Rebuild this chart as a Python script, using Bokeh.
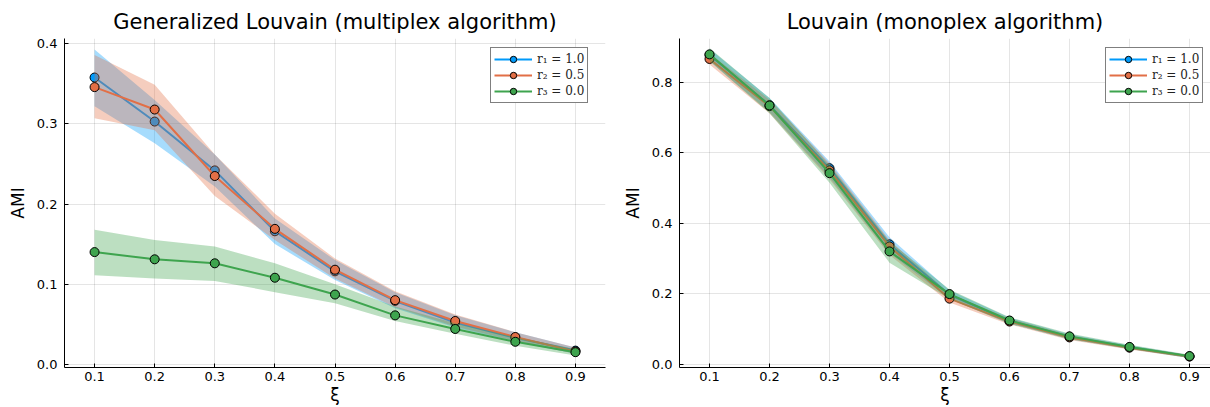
from bokeh.plotting import figure
from bokeh.layouts import row
from bokeh.models import Range1d, Legend, LegendItem, FixedTicker, PrintfTickFormatter
from bokeh.embed import file_html
from bokeh.resources import INLINE

xi = [0.1, 0.2, 0.3, 0.4, 0.5, 0.6, 0.7, 0.8, 0.9]
labels = ["r₁ = 1.0", "r₂ = 0.5", "r₃ = 0.0"]
colors = ["#009AFA", "#E26F46", "#3EA44E"]

# Generalized Louvain (multiplex)
gl_r1 = [0.358, 0.303, 0.242, 0.166, 0.116, 0.079, 0.052, 0.033, 0.017]
gl_r1_lo = [0.322, 0.276, 0.222, 0.150, 0.105, 0.070, 0.046, 0.028, 0.013]
gl_r1_hi = [0.393, 0.330, 0.262, 0.182, 0.130, 0.090, 0.061, 0.040, 0.021]
gl_r2 = [0.346, 0.318, 0.235, 0.169, 0.118, 0.080, 0.054, 0.034, 0.016]
gl_r2_lo = [0.307, 0.292, 0.210, 0.155, 0.107, 0.071, 0.047, 0.029, 0.013]
gl_r2_hi = [0.386, 0.349, 0.262, 0.188, 0.132, 0.091, 0.062, 0.040, 0.021]
gl_r3 = [0.140, 0.131, 0.126, 0.108, 0.087, 0.061, 0.044, 0.028, 0.015]
gl_r3_lo = [0.111, 0.107, 0.104, 0.090, 0.076, 0.054, 0.038, 0.023, 0.011]
gl_r3_hi = [0.168, 0.155, 0.147, 0.126, 0.100, 0.072, 0.051, 0.034, 0.019]

# Louvain (monoplex)
lv_r1 = [0.877, 0.735, 0.556, 0.340, 0.197, 0.123, 0.078, 0.048, 0.022]
lv_r1_lo = [0.860, 0.715, 0.530, 0.315, 0.185, 0.115, 0.071, 0.043, 0.018]
lv_r1_hi = [0.895, 0.755, 0.575, 0.360, 0.210, 0.132, 0.085, 0.054, 0.026]
lv_r2 = [0.866, 0.732, 0.550, 0.334, 0.186, 0.121, 0.076, 0.047, 0.022]
lv_r2_lo = [0.850, 0.712, 0.525, 0.310, 0.175, 0.113, 0.069, 0.042, 0.018]
lv_r2_hi = [0.882, 0.750, 0.570, 0.352, 0.200, 0.130, 0.083, 0.052, 0.026]
lv_r3 = [0.879, 0.734, 0.542, 0.320, 0.199, 0.124, 0.079, 0.049, 0.023]
lv_r3_lo = [0.860, 0.712, 0.515, 0.288, 0.185, 0.115, 0.071, 0.043, 0.018]
lv_r3_hi = [0.897, 0.755, 0.565, 0.348, 0.212, 0.133, 0.087, 0.055, 0.027]

x_ticks = [0.1, 0.2, 0.3, 0.4, 0.5, 0.6, 0.7, 0.8, 0.9]
left_y_ticks = [0.0, 0.1, 0.2, 0.3, 0.4]
right_y_ticks = [0.0, 0.2, 0.4, 0.6, 0.8]

FONT = "DejaVu Sans"


def make(title, series, xr, yr, yticks, width, mbl, mbr, title_offset=0):
    p = figure(width=width, height=407, x_range=Range1d(*xr), y_range=Range1d(*yr),
               output_backend="svg", toolbar_location=None,
               min_border_left=mbl, min_border_right=mbr,
               min_border_top=38, min_border_bottom=39)
    p.outline_line_color = None
    p.title.text = title
    p.title.align = "center"
    p.title.text_font = FONT
    p.title.text_font_size = "21px"
    p.title.text_font_style = "normal"
    p.title.text_color = "#000000"
    p.title.offset = title_offset
    p.title.standoff = 9
    for ax in (p.xaxis[0], p.yaxis[0]):
        ax.major_tick_in = 4
        ax.major_tick_out = 0
        ax.minor_tick_in = 0
        ax.minor_tick_out = 0
        ax.major_label_text_font = FONT
        ax.major_label_text_font_size = "13px"
        ax.major_label_text_color = "#000000"
        ax.axis_label_text_font = FONT
        ax.axis_label_text_font_size = "17px"
        ax.axis_label_text_font_style = "normal"
        ax.axis_label_text_color = "#000000"
        ax.axis_line_color = "#000000"
        ax.major_tick_line_color = "#000000"
        ax.formatter = PrintfTickFormatter(format="%.1f")
    p.xaxis.ticker = FixedTicker(ticks=x_ticks)
    p.yaxis.ticker = FixedTicker(ticks=yticks)
    p.xaxis.major_label_standoff = 4
    p.yaxis.major_label_standoff = 7
    p.xaxis.axis_label = "ξ"
    p.yaxis.axis_label = "AMI"
    p.xaxis.axis_label_standoff = 1
    p.yaxis.axis_label_standoff = 6
    p.grid.grid_line_color = "#000000"
    p.grid.grid_line_alpha = 0.1
    p.grid.grid_line_width = 1

    items = []
    for (y, lo, hi), c, lab in zip(series, colors, labels):
        p.varea(x=xi, y1=lo, y2=hi, fill_color=c, fill_alpha=0.35)
        ln = p.line(xi, y, line_color=c, line_width=2)
        sc = p.scatter(xi, y, size=9, fill_color=c, line_color="#000000", line_width=1)
        items.append(LegendItem(label=lab, renderers=[ln, sc]))
    leg = Legend(items=items, location=(426, 264))
    leg.border_line_color = "#000000"
    leg.border_line_width = 1
    leg.background_fill_color = "#ffffff"
    leg.background_fill_alpha = 1
    leg.label_text_font = "DejaVu Serif"
    leg.label_text_font_size = "12px"
    leg.label_text_color = "#222222"
    leg.glyph_width = 38
    leg.glyph_height = 16
    leg.label_height = 16
    leg.spacing = 0
    leg.padding = 3
    leg.margin = 0
    leg.label_standoff = 5
    p.add_layout(leg, "center")
    return p


p1 = make("Generalized Louvain (multiplex algorithm)",
          [(gl_r1, gl_r1_lo, gl_r1_hi), (gl_r2, gl_r2_lo, gl_r2_hi), (gl_r3, gl_r3_lo, gl_r3_hi)],
          (0.05, 0.95), (-0.0041, 0.4067), left_y_ticks, 610, 64, 5)
p2 = make("Louvain (monoplex algorithm)",
          [(lv_r1, lv_r1_lo, lv_r1_hi), (lv_r2, lv_r2_lo, lv_r2_hi), (lv_r3, lv_r3_lo, lv_r3_hi)],
          (0.05, 0.935), (-0.0093, 0.924), right_y_ticks, 600, 69, 0, title_offset=4)

layout = row(p1, p2)
open("out.html", "w").write(file_html(layout, INLINE))
